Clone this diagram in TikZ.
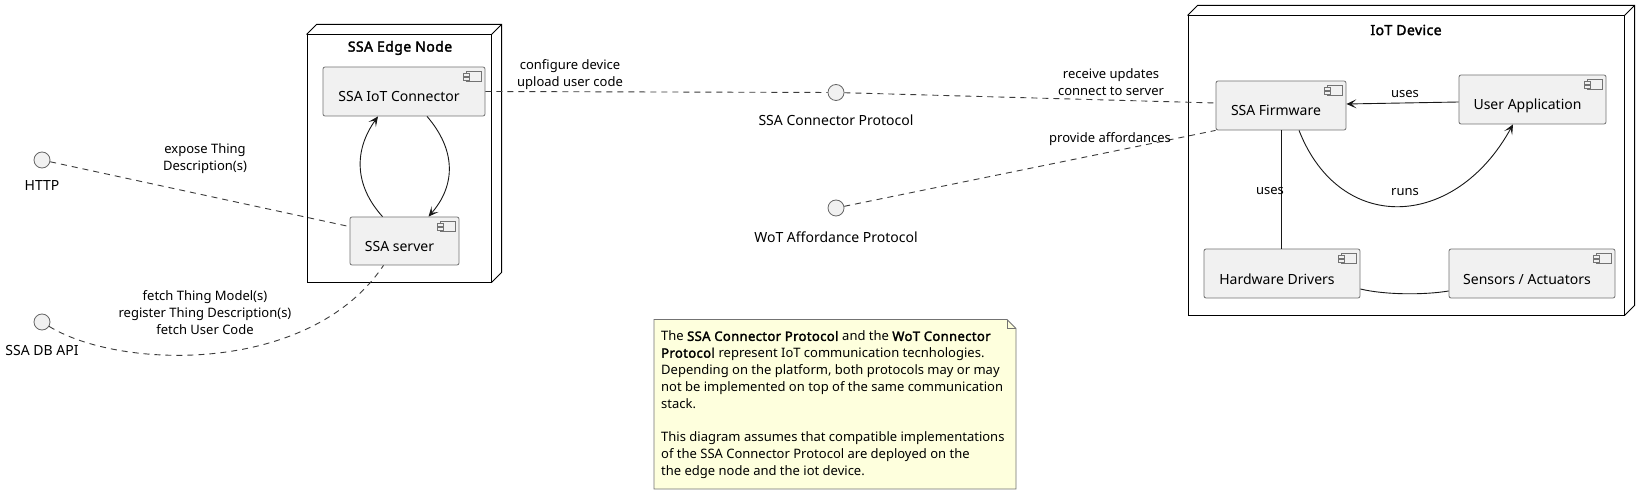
\documentclass[tikz,border=0pt]{standalone}
\usepackage{fontspec}
\setmainfont{Noto Sans}[BoldFont={Noto Sans}, BoldFeatures={FakeBold=2.2, LetterSpace=3}]
\usetikzlibrary{arrows.meta,calc}
\definecolor{compfill}{HTML}{F1F1F1}
\definecolor{notefill}{HTML}{FEFFDD}
\definecolor{linecol}{HTML}{181818}
\newcommand{\ctxt}[1]{\kern-5pt#1\kern5pt}
\newcommand{\compicon}[1]{%
  \draw[iconline] ([shift={(-19,5)}]#1.north east) rectangle ([shift={(-4,15)}]#1.north east);
  \draw[iconline] ([shift={(-22,7)}]#1.north east) rectangle ([shift={(-16,9.5)}]#1.north east);
  \draw[iconline] ([shift={(-22,11)}]#1.north east) rectangle ([shift={(-16,13.5)}]#1.north east);
}
\begin{document}
\begin{tikzpicture}[x=1pt,y=-1pt,
  comp/.style={draw=black!55, fill=compfill, line width=0.8pt, rounded corners=2pt,
    inner sep=0pt, text height=21pt, text depth=0pt, font=\fontsize{14}{17}\selectfont},
  iconline/.style={draw=black!55, fill=compfill, line width=0.6pt},
  nodebox/.style={draw=black, line width=1pt, fill=white, inner sep=0pt},
  nodeline/.style={draw=black, line width=1pt},
  titletext/.style={font=\fontsize{14}{17}\selectfont\bfseries, inner sep=0pt},
  iface/.style={circle, draw=black!60, fill=compfill, line width=0.8pt, minimum size=16pt, inner sep=0pt},
  ifl/.style={font=\fontsize{14}{17}\selectfont, inner sep=0pt},
  lbl/.style={font=\fontsize{13}{17}\selectfont, align=center, inner sep=0pt},
  dline/.style={draw=linecol!85, line width=0.9pt, dash pattern=on 6pt off 5pt},
  sline/.style={draw=linecol, line width=0.9pt},
  arr/.style={-{Stealth[length=10pt,width=9pt,inset=5pt]}},
]
\useasboundingbox (0,0) rectangle (1648,494);
\fill[white] (0,0) rectangle (1648,494);

% ---- SSA Edge Node
\node[nodebox, minimum width=184pt, minimum height=247pt] (edge) at (399,158.5) {};
\draw[nodeline] (edge.north west) -- ++(10,-10) -- ([shift={(10,-10)}]edge.north east)
  -- ([shift={(10,-10)}]edge.south east) -- (edge.south east);
\draw[nodeline] (edge.north east) -- ++(10,-10);
\node[titletext] (edgetitle) at (400,48) {SSA Edge Node};

% ---- IoT Device
\node[nodebox, minimum width=436pt, minimum height=299pt] (iot) at (1406,165.5) {};
\draw[nodeline] (iot.north west) -- ++(10,-10) -- ([shift={(10,-10)}]iot.north east)
  -- ([shift={(10,-10)}]iot.south east) -- (iot.south east);
\draw[nodeline] (iot.north east) -- ++(10,-10);
\node[titletext] (iottitle) at (1406,30) {IoT Device};

% ---- components
\node[comp, minimum width=162pt, minimum height=49pt] (conn) at (404,91.5) {\ctxt{SSA IoT Connector}};
\node[comp, minimum width=109pt, minimum height=48pt] (server) at (404.5,241) {\ctxt{SSA server}};
\node[comp, minimum width=130pt, minimum height=49pt] (fw) at (1281,105.5) {\ctxt{SSA Firmware}};
\node[comp, minimum width=147pt, minimum height=49pt] (app) at (1532.5,99.5) {\ctxt{User Application}};
\node[comp, minimum width=156pt, minimum height=49pt] (hw) at (1282,273.5) {\ctxt{Hardware Drivers}};
\node[comp, minimum width=166pt, minimum height=49pt] (sens) at (1532,273.5) {\ctxt{Sensors / Actuators}};
\compicon{conn}
\compicon{server}
\compicon{fw}
\compicon{app}
\compicon{hw}
\compicon{sens}

% ---- interfaces
\node[iface] (http) at (42,160) {};
\node[ifl] (httpl) at (42,186) {HTTP};
\node[iface] (dbapi) at (42,322) {};
\node[ifl] (dbapil) at (42,351) {SSA DB API};
\node[iface] (scp) at (836,92.5) {};
\node[ifl] (scpl) at (836,120) {SSA Connector Protocol};
\node[iface] (wot) at (836,208) {};
\node[ifl] (wotl) at (836,237) {WoT Affordance Protocol};

% ---- connectors
\draw[dline] (http) -- ([shift={(0,10)}]server.north west);
\node[lbl] (exposel) at (205,159) {expose Thing\\Description(s)};

\draw[dline] (dbapi) .. controls (120,370) and (310,375) .. ([shift={(-21,0)}]server.south);
\node[lbl] (fetchl) at (205,313) {fetch Thing Model(s)\\register Thing Description(s)\\fetch User Code};

\draw[sline,arr] ([shift={(-22,0)}]server.north) .. controls (354,185) and (354,150) .. ([shift={(-26,0)}]conn.south);
\draw[sline,arr] ([shift={(23,0)}]conn.south) .. controls (456,150) and (456,185) .. ([shift={(24,0)}]server.north);

\draw[dline] (conn.east) -- (scp);
\node[lbl] (confl) at (570,74.5) {configure device\\upload user code};

\draw[dline] (scp) -- ([shift={(0,-2.5)}]fw.west);
\node[lbl] (recvl) at (1111,82) {receive updates\\connect to server};

\draw[dline] (wot) -- (fw.south west);
\node[lbl] (provl) at (1110,139) {provide affordances};

\draw[sline,arr] ([shift={(0,2.5)}]app.west) -- ([shift={(0,-1.5)}]fw.east);
\node[lbl] (uses1) at (1405,94) {uses};

\draw[sline] (fw.south) -- (fw.south |- hw.north);
\node[lbl] (uses2) at (1270,191) {uses};

\draw[sline,arr] ([shift={(18,0)}]fw.south) .. controls (1340,235) and (1455,230) .. ([shift={(-19.5,0)}]app.south);
\node[lbl] (runsl) at (1405,192) {runs};

\draw[sline] ([shift={(0,15.5)}]hw.east) .. controls (1385,295) and (1425,295) .. ([shift={(0,17.5)}]sens.west);

% ---- note
\draw[draw=black!55, fill=notefill, line width=0.8pt] (654,319.5) -- (1007,319.5) -- (1016,328.5) -- (1016,489) -- (654,489) -- cycle;
\draw[draw=black!55, line width=0.8pt] (1007,319.5) -- (1007,328.5) -- (1016,328.5);
\node[anchor=north west, inner sep=0pt, align=left, font=\fontsize{13}{16.8}\selectfont] (notetext) at (661,330.8)
{The \textbf{SSA Connector Protocol} and the \textbf{WoT Connector}\\
\textbf{Protocol} represent IoT communication tecnhologies.\\
Depending on the platform, both protocols may or may\\
not be implemented on top of the same communication\\
stack.\\[16.8pt]
This diagram assumes that compatible implementations\\
of the SSA Connector Protocol are deployed on the\\
the edge node and the iot device.};
\end{tikzpicture}
\end{document}
